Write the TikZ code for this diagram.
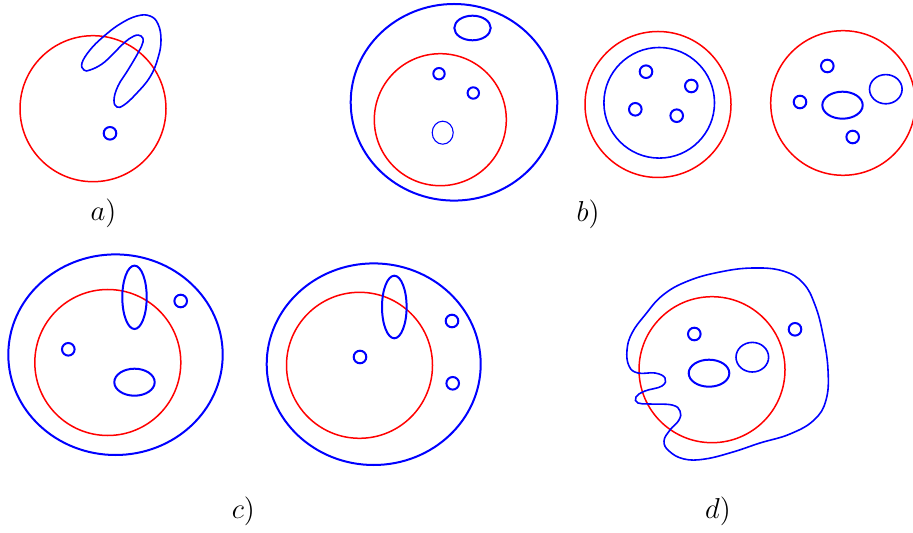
\documentclass[tikz,border=0pt]{standalone}
\begin{document}
\begin{tikzpicture}[x=0.5pt,y=-0.5pt,
  redc/.style={draw=red,line width=0.75pt},
  bluek/.style={draw=blue,line width=1pt},
  bluem/.style={draw=blue,line width=0.8pt},
  bluet/.style={draw=blue,line width=0.55pt},
  lbl/.style={anchor=base,font=\fontsize{14.5}{17}\selectfont,inner sep=0pt}]
\useasboundingbox (0,0) rectangle (913,533);
% ---- a)
\draw[redc] (93,108.7) circle[radius=73];
\draw[bluek] (110,133.3) circle[radius=6.3];
\draw[bluem] plot[smooth cycle,tension=0.7] coordinates {
 (82,63) (90,50) (103,37) (120,24) (137,16) (150,16) (158,24) (161,40) (158,58) (150,77)
 (136,94) (124,105) (117,107) (114,100) (118,86) (128,70) (138,53) (143,42)
 (141,36) (134,36) (124,43) (113,54) (102,64) (90,70) (84,70)};
\node[lbl] (la) at (103.5,221) {$a)$};
% ---- b) first
\draw[bluek] (454,102.3) ellipse[x radius=103.3,y radius=98.3];
\draw[bluek] (472.5,28) ellipse[x radius=18.2,y radius=12.3];
\draw[redc] (440.3,119.7) circle[radius=66];
\draw[bluek] (439,73.7) circle[radius=5.7];
\draw[bluek] (473.3,93) circle[radius=5.7];
\draw[bluet] (442.7,132.7) ellipse[x radius=10.5,y radius=11.5];
% ---- b) second
\draw[redc] (658,104.5) circle[radius=73];
\draw[bluem] (659.2,102.8) circle[radius=55.3];
\draw[bluek] (646,71.7) circle[radius=6.3];
\draw[bluek] (691.3,86) circle[radius=6.3];
\draw[bluek] (635.3,109.3) circle[radius=6.3];
\draw[bluek] (676.7,115.7) circle[radius=6.3];
% ---- b) third
\draw[redc] (843,103) circle[radius=72.3];
\draw[bluek] (827.3,66) circle[radius=6.3];
\draw[bluek] (800,102) circle[radius=6.3];
\draw[bluek] (852.7,137) circle[radius=6.3];
\draw[bluek] (842.5,105.2) ellipse[x radius=20.2,y radius=13.5];
\draw[bluem] (885.8,89.2) ellipse[x radius=16.3,y radius=14.6];
\node[lbl] (lb) at (588,221.7) {$b)$};
% ---- c) first
\draw[bluek] (115.5,354.7) ellipse[x radius=107.2,y radius=100.3];
\draw[redc] (107.8,362.5) circle[radius=73];
\draw[bluek] (134.5,297.3) ellipse[x radius=12.2,y radius=31.7];
\draw[bluek] (180.7,301) circle[radius=6.3];
\draw[bluek] (68.3,349.3) circle[radius=6.3];
\draw[bluek] (134.5,382.2) ellipse[x radius=20.2,y radius=13.5];
% ---- c) second
\draw[bluek] (373.7,364.2) ellipse[x radius=107,y radius=100.8];
\draw[redc] (359.5,365.3) circle[radius=73];
\draw[bluek] (394.3,307) ellipse[x radius=12.3,y radius=31.3];
\draw[bluek] (360,357) circle[radius=6.3];
\draw[bluek] (452,321) circle[radius=6.3];
\draw[bluek] (452.7,383.3) circle[radius=6.3];
\node[lbl] (lc) at (243.3,518.3) {$c)$};
% ---- d)
\draw[redc] (712,369.7) circle[radius=73];
\draw[bluek] (694.3,334) circle[radius=6.3];
\draw[bluek] (795,329.3) circle[radius=6.3];
\draw[bluem] (752.3,357.2) ellipse[x radius=16.3,y radius=14.8];
\draw[bluek] (709,373.2) ellipse[x radius=20.3,y radius=13.5];
\draw[bluem] plot[smooth cycle,tension=0.7] coordinates {
 (720,272) (753,268) (783,271) (803,283) (815,305) (823,335) (828,370) (826,400)
 (814,420) (790,434) (760,443) (733,452) (705,459) (684,459) (669,451) (664,441)
 (670,430) (679,420) (680,411) (672,405) (650,404) (638,403) (636,397) (645,391) (662,386)
 (665,378) (655,373) (638,373) (629,366) (627,350) (632,333) (645,315) (663,295) (688,281)};
\node[lbl] (ld) at (718,518.3) {$d)$};
\end{tikzpicture}
\end{document}
